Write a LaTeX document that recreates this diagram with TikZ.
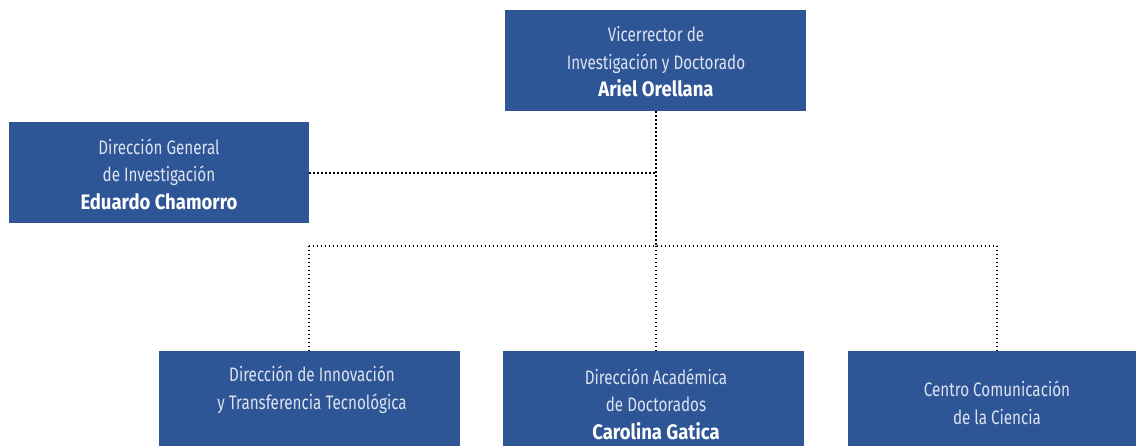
\documentclass[tikz,border=0pt]{standalone}
\usepackage{fontspec}
\setmainfont{Fira Sans}[FakeStretch=0.78, BoldFeatures={FakeStretch=0.88}]
\definecolor{boxblue}{HTML}{2E5595}
\definecolor{lighttext}{HTML}{DCE3F0}
\newcommand{\namebold}[1]{\textcolor{white}{\fontsize{21}{27.5}\selectfont\bfseries #1}}
\begin{document}
\begin{tikzpicture}[x=1pt,y=-1pt,
  orgbox/.style={fill=boxblue, draw=none, inner sep=0pt, anchor=north west},
  orgtext/.style={text=lighttext, align=center, font=\fontsize{19.5}{27.5}\selectfont, inner sep=0pt},
  link/.style={draw=black, line width=1.3pt, dash pattern=on 1.3pt off 2.7pt}]
\useasboundingbox (0,0) rectangle (1136,446);
% boxes
\node[orgbox, minimum width=301pt, minimum height=101pt] (vr) at (505,10) {};
\node[orgbox, minimum width=300pt, minimum height=101pt] (dgi) at (9,122) {};
\node[orgbox, minimum width=301pt, minimum height=95pt] (dit) at (159,351) {};
\node[orgbox, minimum width=301pt, minimum height=95pt] (dad) at (503,351) {};
\node[orgbox, minimum width=288pt, minimum height=95pt] (ccc) at (848,351) {};
% texts
\node[orgtext] (vrt) at (656,62) {Vicerrector de\\Investigación y Doctorado\\\namebold{Ariel Orellana}};
\node[orgtext] (dgit) at (159,174) {Dirección General\\de Investigación\\\namebold{Eduardo Chamorro}};
\node[orgtext] (ditt) at (312,390) {Dirección de Innovación\\y Transferencia Tecnológica};
\node[orgtext] (dadt) at (656,404) {Dirección Académica\\de Doctorados\\\namebold{Carolina Gatica}};
\node[orgtext] (ccct) at (997,403) {Centro Comunicación\\de la Ciencia};
% connector coordinates
\coordinate (j1) at (656,173);
\coordinate (j2) at (656,246);
\coordinate (jl) at (309,246);
\coordinate (jr) at (997,246);
% connectors
\draw[link] (vr.south -| j1) -- (j2);
\draw[link] (dgi.east |- j1) -- (j1);
\draw[link] (jl) -- (jr);
\draw[link] (jl) -- (jl |- dit.north);
\draw[link] (j2) -- (j2 |- dad.north);
\draw[link] (jr) -- (jr |- ccc.north);
\end{tikzpicture}
\end{document}
